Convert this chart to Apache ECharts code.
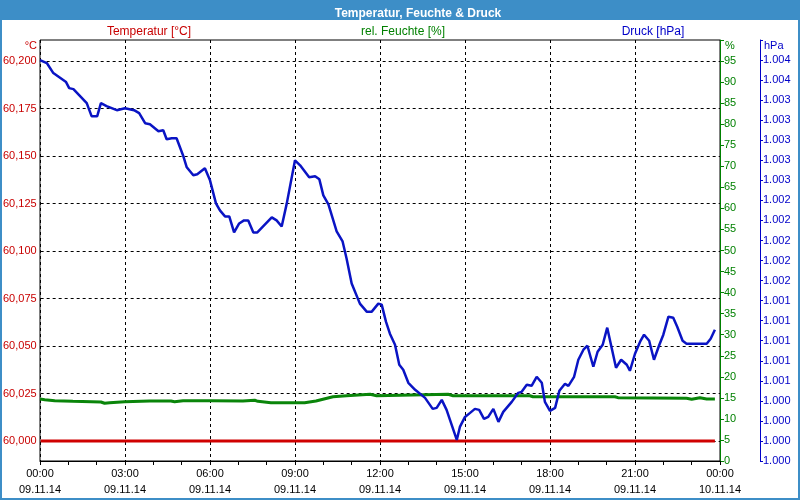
<!DOCTYPE html>
<html>
<head>
<meta charset="utf-8">
<script src="https://cdn.jsdelivr.net/npm/echarts@6/dist/echarts.min.js"></script>
<style>html,body{margin:0;padding:0;background:#fff}#c{width:800px;height:500px}</style>
</head>
<body>
<div id="c"></div>
<script>
// ---- data (hours since 09.11.14 00:00) ----
const druckZeit = [0,0.24,0.47,0.77,0.92,1.03,1.18,1.65,1.82,2.02,
2.15,2.35,2.71,3.0,3.32,3.50,3.71,3.88,4.18,4.35,
4.47,4.65,4.82,5.06,5.18,5.41,5.55,5.82,6.0,6.21,
6.35,6.53,6.68,6.85,7.03,7.20,7.35,7.53,7.67,8.18,
8.35,8.53,8.71,9.0,9.18,9.50,9.71,9.86,10.0,10.18,
10.47,10.68,10.82,11.0,11.29,11.53,11.71,11.94,12.06,12.21,
12.35,12.53,12.68,12.82,13.0,13.24,13.59,13.86,14.0,14.18,
14.35,14.53,14.71,14.82,15.0,15.18,15.35,15.50,15.67,15.82,
16.0,16.18,16.35,16.65,16.88,17.0,17.18,17.35,17.53,17.71,
17.82,18.0,18.18,18.33,18.53,18.65,18.85,19.0,19.18,19.32,
19.53,19.68,19.86,20.02,20.33,20.51,20.71,20.82,21.0,21.18,
21.32,21.50,21.67,21.86,22.0,22.18,22.35,22.49,22.68,22.82,
23.06,23.23,23.53,23.67,23.82];
const druck = [1003.80,1003.77,1003.67,1003.61,1003.58,1003.52,1003.51,1003.37,1003.24,1003.24,
1003.37,1003.34,1003.30,1003.32,1003.30,1003.27,1003.17,1003.16,1003.09,1003.10,
1003.01,1003.02,1003.02,1002.84,1002.73,1002.65,1002.66,1002.72,1002.60,1002.37,
1002.30,1002.24,1002.24,1002.08,1002.17,1002.20,1002.20,1002.08,1002.08,1002.23,
1002.20,1002.14,1002.37,1002.80,1002.75,1002.63,1002.64,1002.61,1002.45,1002.36,
1002.09,1001.99,1001.82,1001.57,1001.37,1001.29,1001.29,1001.37,1001.36,1001.19,
1001.07,1000.96,1000.76,1000.71,1000.58,1000.51,1000.43,1000.32,1000.33,1000.41,
1000.31,1000.16,1000.01,1000.14,1000.24,1000.28,1000.32,1000.31,1000.22,1000.24,
1000.32,1000.19,1000.29,1000.39,1000.48,1000.49,1000.56,1000.55,1000.64,1000.58,
1000.39,1000.30,1000.33,1000.50,1000.57,1000.55,1000.64,1000.81,1000.91,1000.95,
1000.74,1000.89,1000.96,1001.13,1000.73,1000.81,1000.76,1000.70,1000.87,1000.99,
1001.06,1001.00,1000.81,1000.96,1001.06,1001.24,1001.23,1001.14,1001.00,1000.97,
1000.97,1000.97,1000.97,1001.02,1001.11];

const feuchteZeit = [0,0.17,0.52,1.16,2.15,2.28,2.46,2.99,3.87,4.62,4.75,5.05,6.04,7.16,7.58,7.69,8.15,9.34,9.74,10.34,10.82,11.65,11.88,14.4,14.58,17.29,17.4,20.29,20.4,22.82,23.0,23.29,23.53,23.82];
const feuchte = [14.7,14.56,14.32,14.18,14.01,13.71,13.85,14.09,14.25,14.25,14.09,14.32,14.32,14.25,14.42,14.18,13.85,13.85,14.25,15.27,15.51,15.84,15.51,15.84,15.51,15.51,15.27,15.27,15.04,14.89,14.66,15.04,14.73,14.73];

const tempZeit = [0, 23.82];
const temperatur = [60.0, 60.0];

const xTickDates = ['09.11.14','09.11.14','09.11.14','09.11.14','09.11.14','09.11.14','09.11.14','09.11.14','10.11.14'];
const titel = 'Temperatur, Feuchte & Druck';
const namen = ['Temperatur [°C]', 'rel. Feuchte [%]', 'Druck [hPa]'];
const einheiten = ['°C', '%', 'hPa'];

// ---- styles ----
const FONT = 'Liberation Sans';
const RED = '#c80000', GREEN = '#008000', BLUE = '#0000c8';
const BAR = '#3d8ec7';

function pairs(xs, ys){ return xs.map((x,i)=>[x, ys[i]]); }

const chart = echarts.init(document.getElementById('c'), null, {renderer:'canvas'});
chart.setOption({
  animation:false,
  backgroundColor:'#ffffff',
  textStyle:{fontFamily:FONT, fontSize:11},
  title:{text:titel, left:413, top:3, textAlign:'center',
    textStyle:{color:'#fff', fontFamily:FONT, fontSize:12, fontWeight:'bold'}},
  grid:[
    {left:40, right:80, top:40, bottom:39, show:true, borderColor:'#000', borderWidth:1, backgroundColor:'transparent'},
    {left:40, right:80, top:61, bottom:59, show:false}
  ],
  xAxis:[
    {type:'value', gridIndex:0, min:0, max:24, interval:3,
     axisLine:{onZero:false, lineStyle:{color:'#000', width:1}},
     axisTick:{show:true, length:4, lineStyle:{color:'#000'}},
     minorTick:{show:true, splitNumber:3, length:4, lineStyle:{color:'#000'}},
     splitLine:{show:true, lineStyle:{color:'#000', type:[3,3], width:1}},
     axisLabel:{color:'#000', fontFamily:FONT, fontSize:11, lineHeight:16, margin:5,
       formatter:function(v){ const h = Math.round(v)%24; const i = Math.round(v/3);
         return (h<10?'0':'')+h+':00\n'+xTickDates[i]; }}
    },
    {type:'value', gridIndex:1, min:0, max:24, interval:3, show:false}
  ],
  yAxis:[
    {type:'value', gridIndex:1, position:'left', min:60.0, max:60.2, interval:0.025,
     axisLine:{show:false, onZero:false}, axisTick:{show:false},
     splitLine:{show:true, lineStyle:{color:'#000', type:[3,3], width:1}},
     axisLabel:{color:RED, fontFamily:FONT, fontSize:11, margin:4,
       formatter:function(v){ return v.toFixed(3).replace('.',','); }}
    },
    {type:'value', gridIndex:0, position:'right', min:0, max:100, interval:5,
     axisLine:{show:true, onZero:false, lineStyle:{color:GREEN, width:1}},
     axisTick:{show:true, length:4, lineStyle:{color:GREEN}},
     splitLine:{show:false},
     axisLabel:{color:GREEN, fontFamily:FONT, fontSize:11, margin:4,
       formatter:function(v){ return v>=99.5 ? '' : String(v); }}
    },
    {type:'value', gridIndex:0, position:'right', offset:40, min:999.8, max:1004.0, interval:0.2,
     axisLine:{show:true, onZero:false, lineStyle:{color:BLUE, width:1}},
     axisTick:{show:true, length:3, lineStyle:{color:BLUE}},
     splitLine:{show:false},
     axisLabel:{color:BLUE, fontFamily:FONT, fontSize:11, margin:3,
       formatter:function(v){ if (v>1003.9) return ''; const r = Math.round(v);
         return Math.floor(r/1000)+'.'+String(r%1000).padStart(3,'0'); }}
    }
  ],
  graphic:[
    {type:'rect', z:-10, shape:{x:0,y:0,width:800,height:20}, style:{fill:BAR}},
    {type:'rect', z:100, shape:{x:1,y:1,width:798,height:498}, style:{fill:null, stroke:BAR, lineWidth:2}},
    {type:'text', x:149, y:32, style:{text:namen[0], fill:RED, font:'12px '+FONT, textAlign:'center', textVerticalAlign:'middle'}},
    {type:'text', x:403, y:32, style:{text:namen[1], fill:GREEN, font:'12px '+FONT, textAlign:'center', textVerticalAlign:'middle'}},
    {type:'text', x:653, y:32, style:{text:namen[2], fill:BLUE, font:'12px '+FONT, textAlign:'center', textVerticalAlign:'middle'}},
    {type:'text', x:37, y:46, style:{text:einheiten[0], fill:RED, font:'11px '+FONT, textAlign:'right', textVerticalAlign:'middle'}},
    {type:'text', x:725, y:46, style:{text:einheiten[1], fill:GREEN, font:'11px '+FONT, textAlign:'left', textVerticalAlign:'middle'}},
    {type:'text', x:764, y:46, style:{text:einheiten[2], fill:BLUE, font:'11px '+FONT, textAlign:'left', textVerticalAlign:'middle'}}
  ],
  series:[
    {name:namen[0], type:'line', xAxisIndex:1, yAxisIndex:0, data:pairs(tempZeit, temperatur),
     showSymbol:false, clip:false, lineStyle:{color:'#d00000', width:3}, z:3},
    {name:namen[1], type:'line', xAxisIndex:0, yAxisIndex:1, data:pairs(feuchteZeit, feuchte),
     showSymbol:false, lineStyle:{color:'#0a850a', width:3}, z:4},
    {name:namen[2], type:'line', xAxisIndex:0, yAxisIndex:2, data:pairs(druckZeit, druck),
     showSymbol:false, lineStyle:{color:'#0a14c4', width:2.5}, z:5}
  ]
});
</script>
</body>
</html>
